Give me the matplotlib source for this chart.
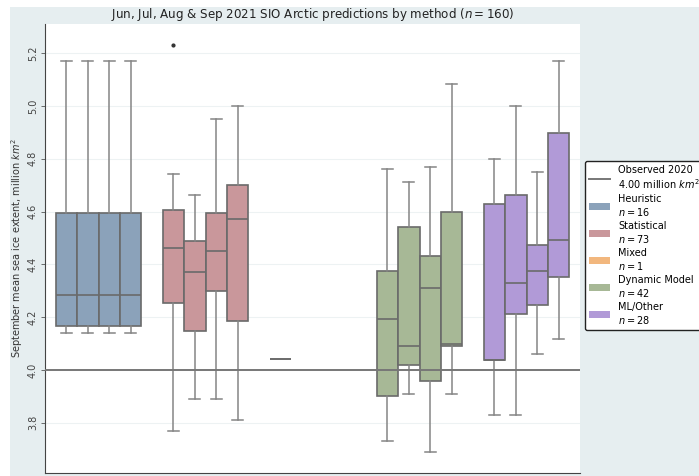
import matplotlib.pyplot as plt
from matplotlib.patches import Rectangle, Patch
from matplotlib.lines import Line2D

# five-number summaries per method, one tuple per month (lo, q1, med, q3, hi)
months = ["Jun", "Jul", "Aug", "Sep"]
methods = ["Heuristic", "Statistical", "Mixed", "Dynamic Model", "ML/Other"]
counts = [16, 73, 1, 42, 28]
colors = ["#8ba2ba", "#c9979b", "#f2b77e", "#a7b896", "#b19ad7"]

heuristic = [(4.14, 4.167, 4.285, 4.594, 5.17),
             (4.14, 4.167, 4.285, 4.594, 5.17),
             (4.14, 4.167, 4.285, 4.594, 5.17),
             (4.14, 4.167, 4.285, 4.594, 5.17)]
statistical = [(3.77, 4.255, 4.461, 4.606, 4.741),
               (3.89, 4.149, 4.37, 4.49, 4.662),
               (3.89, 4.299, 4.451, 4.595, 4.95),
               (3.81, 4.186, 4.571, 4.70, 5.0)]
mixed = [(4.04, 4.04, 4.04, 4.04, 4.04), None, None, None]
dynamic = [(3.73, 3.903, 4.194, 4.375, 4.761),
           (3.91, 4.02, 4.09, 4.54, 4.711),
           (3.69, 3.958, 4.312, 4.432, 4.77),
           (3.91, 4.09, 4.098, 4.60, 5.081)]
ml_other = [(3.83, 4.039, 4.039, 4.63, 4.80),
            (3.83, 4.213, 4.328, 4.662, 5.0),
            (4.061, 4.246, 4.376, 4.475, 4.75),
            (4.119, 4.352, 4.492, 4.897, 5.17)]
summaries = [heuristic, statistical, mixed, dynamic, ml_other]

# outliers: (method index, month index, value)
fliers = [(1, 0, 5.23)]

observed_2020 = 4.00

fig = plt.figure(figsize=(6.99, 4.76), dpi=100)
fig.patch.set_facecolor("white")
fig.add_artist(Rectangle((10 / 699, 0), 1, 1 - 7 / 476, transform=fig.transFigure,
                         facecolor="#e6eef0", edgecolor="none", zorder=-10))

ax = fig.add_axes([45 / 699, 1 - 473 / 476, 535 / 699, 449 / 476])
ax.set_facecolor("white")

line_col = "#6a6a6a"
for i, group in enumerate(summaries):
    for j, s in enumerate(group):
        if s is None:
            continue
        lo, q1, med, q3, hi = s
        fl = [v for (gi, mj, v) in fliers if gi == i and mj == j]
        stats = [dict(whislo=lo, q1=q1, med=med, q3=q3, whishi=hi, fliers=fl)]
        pos = i + (j - 1.5) * 0.2
        ax.bxp(stats, positions=[pos], widths=0.2, capwidths=0.1,
               patch_artist=True, manage_ticks=False,
               boxprops=dict(facecolor=colors[i], edgecolor=line_col, linewidth=1.2),
               whiskerprops=dict(color="#858585", linewidth=1.1),
               capprops=dict(color="#858585", linewidth=1.1),
               medianprops=dict(color=line_col, linewidth=1.2),
               flierprops=dict(marker="o", markersize=2, markerfacecolor="#333333",
                               markeredgecolor="#333333"))

ax.axhline(observed_2020, color="#777777", linewidth=1.4, zorder=3)

ax.set_xlim(-0.5, 4.5)
ax.set_ylim(3.61, 5.31)
ax.set_xticks([])
ax.set_yticks([3.8, 4.0, 4.2, 4.4, 4.6, 4.8, 5.0, 5.2])
ax.tick_params(axis="y", labelsize=7, labelrotation=90, length=3, width=0.6,
               color="#555555", labelcolor="#444444", pad=2)
for lab in ax.get_yticklabels():
    lab.set_verticalalignment("center")
ax.yaxis.grid(True, color="#edf2f3", linewidth=0.8)
ax.set_axisbelow(True)
for side in ["top", "right"]:
    ax.spines[side].set_visible(False)
for side in ["left", "bottom"]:
    ax.spines[side].set_color("#444444")
    ax.spines[side].set_linewidth(0.8)

ax.set_title(r"Jun, Jul, Aug & Sep 2021 SIO Arctic predictions by method ($n = 160$)",
             fontsize=8.6, pad=4, color="#222222")
ax.set_ylabel("September mean sea ice extent, million $km^2$", fontsize=7,
              color="#333333", labelpad=2)

handles = [Line2D([], [], color="#777777", linewidth=1.4)]
labels = ["Observed 2020\n%.2f million $km^2$" % observed_2020]
for name, n, c in zip(methods, counts, colors):
    handles.append(Patch(facecolor=c, edgecolor="none"))
    labels.append("%s\n$n = %d$" % (name, n))
fig.legend(handles, labels, loc="upper left", bbox_to_anchor=(585 / 699, 1 - 161 / 476),
           fontsize=7, frameon=True, edgecolor="#222222", fancybox=True,
           framealpha=1, labelspacing=0.3, handlelength=2.2, borderpad=0.4,
           borderaxespad=0)

fig.savefig("out.png", dpi=100)
